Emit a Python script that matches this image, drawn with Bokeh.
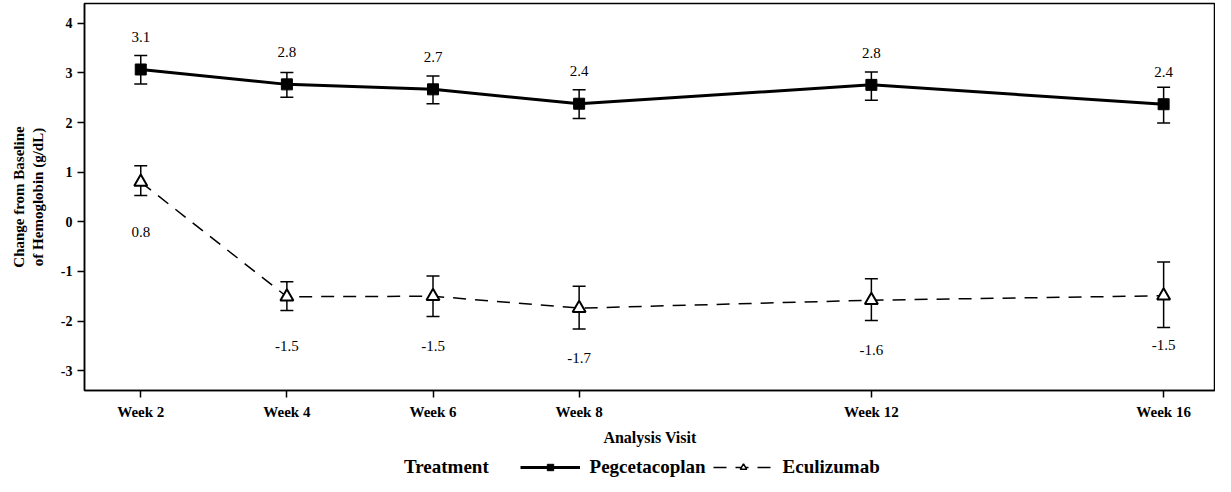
from bokeh.plotting import figure
from bokeh.layouts import column
from bokeh.models import (ColumnDataSource, Whisker, TeeHead, FixedTicker, Legend,
                          LegendItem, Range1d)
from bokeh.embed import file_html
from bokeh.resources import INLINE
from bokeh.core.properties import value

# ---------------- data ----------------
weeks = [2, 4, 6, 8, 12, 16]
week_labels = ["Week 2", "Week 4", "Week 6", "Week 8", "Week 12", "Week 16"]

peg_mean = [3.07, 2.77, 2.67, 2.38, 2.76, 2.37]
peg_lower = [2.78, 2.51, 2.38, 2.08, 2.45, 1.99]
peg_upper = [3.35, 3.01, 2.94, 2.66, 3.02, 2.71]

ecu_mean = [0.80, -1.51, -1.50, -1.74, -1.58, -1.49]
ecu_lower = [0.53, -1.79, -1.91, -2.16, -1.99, -2.13]
ecu_upper = [1.13, -1.21, -1.09, -1.30, -1.15, -0.81]

y_ticks = [-3, -2, -1, 0, 1, 2, 3, 4]
y_tick_labels = ["-3", "-2", "-1", "0", "1", "2", "3", "4"]
series_names = ["Pegcetacoplan", "Eculizumab"]
legend_title = "Treatment"

FONT = "Liberation Serif"

peg_src = ColumnDataSource(dict(
    x=weeks, mean=peg_mean, lower=peg_lower, upper=peg_upper,
    label=[f"{v:.1f}" for v in peg_mean],
    label_y=[v + 0.65 for v in peg_mean]))
ecu_src = ColumnDataSource(dict(
    x=weeks, mean=ecu_mean, lower=ecu_lower, upper=ecu_upper,
    label=[f"{v:.1f}" for v in ecu_mean],
    label_y=[v - 1.0 for v in ecu_mean]))

p = figure(width=1215, height=448,
           x_range=Range1d(1.23, 16.71), y_range=Range1d(-3.4, 4.4),
           output_backend="svg", toolbar_location=None,
           min_border_left=84, min_border_right=0, min_border_top=3,
           min_border_bottom=55)

p.xgrid.visible = False
p.ygrid.visible = False
p.outline_line_color = "black"
p.outline_line_width = 1.5
p.background_fill_color = "white"
p.border_fill_color = "white"

# axes
p.xaxis.ticker = FixedTicker(ticks=weeks)
p.xaxis.major_label_overrides = {w: l for w, l in zip(weeks, week_labels)}
p.yaxis.ticker = FixedTicker(ticks=y_ticks)
p.yaxis.major_label_overrides = {t: l for t, l in zip(y_ticks, y_tick_labels)}
for ax in (p.xaxis, p.yaxis):
    ax.axis_line_color = "black"
    ax.axis_line_width = 1.5
    ax.major_tick_in = 0
    ax.major_tick_out = 7
    ax.major_tick_line_width = 1.5
    ax.major_tick_line_color = "black"
    ax.minor_tick_line_color = None
    ax.major_label_text_font = FONT
    ax.major_label_text_font_style = "bold"
    ax.major_label_text_color = "black"
    ax.axis_label_text_font = FONT
    ax.axis_label_text_font_style = "bold"
    ax.axis_label_text_color = "black"

p.xaxis.major_label_text_font_size = "15px"
p.xaxis.major_label_standoff = 6
p.xaxis.axis_label = "Analysis Visit"
p.xaxis.axis_label_text_font_size = "16px"
p.xaxis.axis_label_standoff = 6

p.yaxis.major_label_text_font_size = "14px"
p.yaxis.major_label_standoff = 5
p.yaxis.axis_label = "Change from Baseline\nof Hemoglobin (g/dL)"
p.yaxis.axis_label_text_font_size = "15px"
p.yaxis.axis_label_standoff = 12

# Pegcetacoplan
p.line("x", "mean", source=peg_src, line_color="black", line_width=3)
p.scatter("x", "mean", source=peg_src, marker="square", size=11,
          fill_color="black", line_color="black")
p.add_layout(Whisker(source=peg_src, base="x", lower="lower", upper="upper",
                     line_color="black", line_width=1.5,
                     upper_head=TeeHead(size=13, line_width=1.5, line_color="black"),
                     lower_head=TeeHead(size=13, line_width=1.5, line_color="black")))
p.text("x", "label_y", text="label", source=peg_src, text_align="center",
       text_baseline="middle", text_font=value(FONT), text_font_size="15px",
       text_color="black")

# Eculizumab
p.line("x", "mean", source=ecu_src, line_color="black", line_width=1.5,
       line_dash="13 9")
p.scatter("x", "mean", source=ecu_src, marker="triangle", size=13,
          fill_color="white", line_color="black", line_width=2)
p.add_layout(Whisker(source=ecu_src, base="x", lower="lower", upper="upper",
                     line_color="black", line_width=1.5,
                     upper_head=TeeHead(size=13, line_width=1.5, line_color="black"),
                     lower_head=TeeHead(size=13, line_width=1.5, line_color="black")))
p.text("x", "label_y", text="label", source=ecu_src, text_align="center",
       text_baseline="middle", text_font=value(FONT), text_font_size="15px",
       text_color="black")

# ---------------- legend strip ----------------
leg = figure(width=1215, height=30, x_range=Range1d(0, 1), y_range=Range1d(0, 1),
             x_axis_type=None, y_axis_type=None, output_backend="svg",
             toolbar_location=None, min_border=0)
leg.grid.visible = False
leg.outline_line_color = None
leg.background_fill_color = "white"
leg.border_fill_color = "white"

# off-range proxy renderers so the legend can draw its glyphs
off = dict(x=[-5, -4], y=[-5, -5])
l_dummy = leg.line(x=off["x"], y=off["y"], line_alpha=0)
l_peg_line = leg.line(x=off["x"], y=off["y"], line_color="black", line_width=3)
l_peg_mark = leg.scatter(x=off["x"], y=off["y"], marker="square", size=11,
                         fill_color="black", line_color="black")
l_ecu_line = leg.line(x=off["x"], y=off["y"], line_color="black", line_width=1.5,
                      line_dash="13 9")
l_ecu_mark = leg.scatter(x=off["x"], y=off["y"], marker="triangle", size=11,
                         fill_color="white", line_color="black", line_width=1.5)

legend = Legend(items=[LegendItem(label=legend_title + "     ", renderers=[l_dummy]),
                       LegendItem(label=series_names[0], renderers=[l_peg_line, l_peg_mark]),
                       LegendItem(label=series_names[1], renderers=[l_ecu_line, l_ecu_mark])],
                orientation="horizontal", location=(250, 0),
                label_text_font=FONT, label_text_font_style="bold",
                label_text_font_size="19px", label_text_color="black",
                label_standoff=10, label_height=16, glyph_height=16,
                border_line_color=None, background_fill_alpha=0,
                glyph_width=60, spacing=7, padding=0, margin=0)
leg.add_layout(legend)

layout = column(p, leg, spacing=0)
open("out.html", "w").write(file_html(layout, INLINE))
